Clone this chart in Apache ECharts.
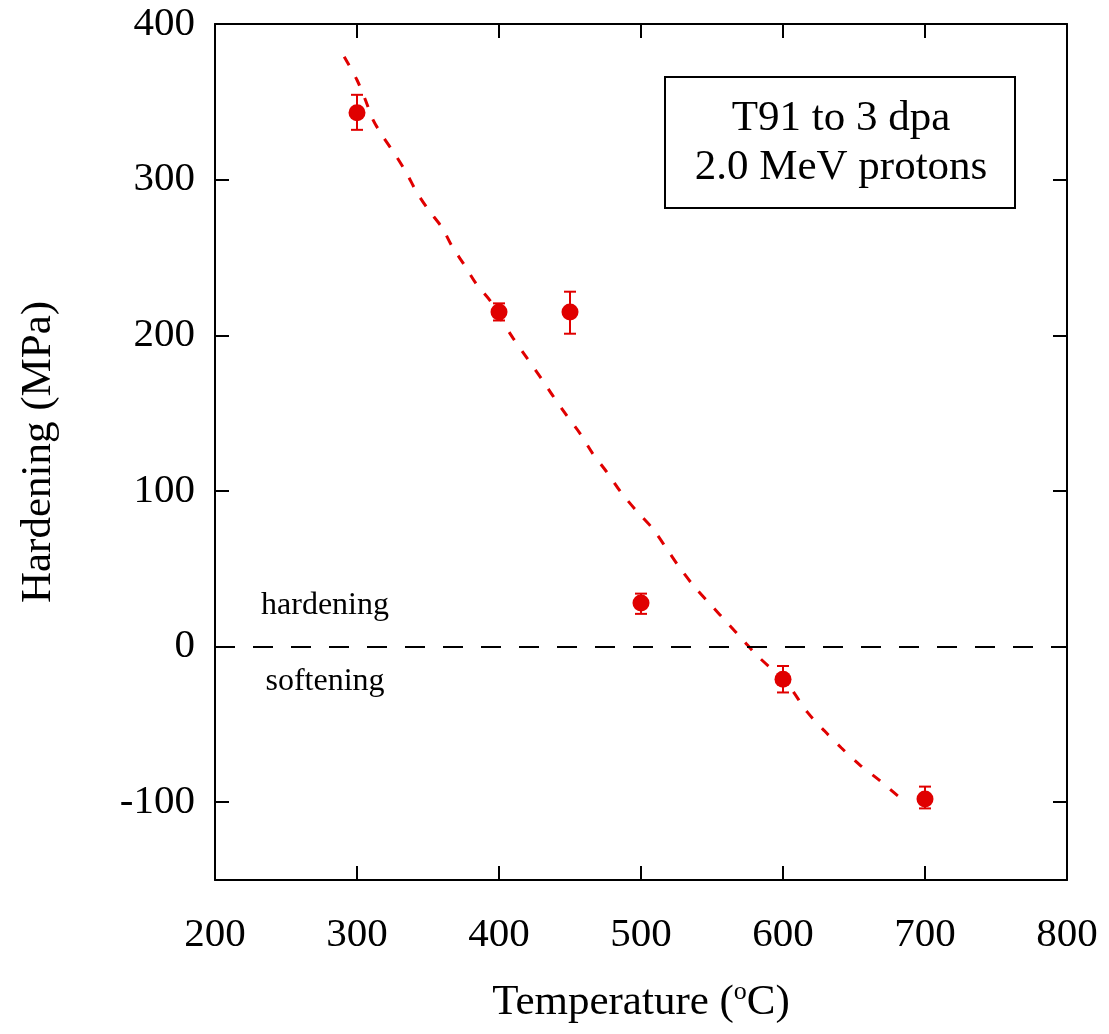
<!DOCTYPE html>
<html>
<head>
<meta charset="utf-8">
<script src="https://cdn.jsdelivr.net/npm/echarts@6/dist/echarts.min.js"></script>
<style>
html,body{margin:0;padding:0;background:#fff;}
#chart{width:1109px;height:1034px;}
</style>
</head>
<body>
<div id="chart"></div>
<script>
// Measured data (temperature in °C, hardening in MPa)
const temps = [300, 400, 450, 500, 600, 700];
const hardening = [343, 215, 215, 28, -21, -98];
const errLow = [332, 209.5, 201, 21, -29.5, -104];
const errHigh = [354.5, 220.5, 228, 34, -12.5, -90];

// Dashed trend curve
const fitT = [291, 300, 306, 311, 318, 327, 335, 342, 350, 360, 367, 375, 384, 394, 401, 410, 420, 430, 438, 448, 457, 466, 476, 486, 497, 508, 518, 527, 538, 550, 561, 572, 582, 603, 617, 629, 641, 654, 668, 681, 685];
const fitH = [379, 364, 351, 339, 328, 316, 304, 292, 281, 269, 257, 246, 233, 222, 211, 198, 185, 172, 161, 148, 137, 124, 112, 99, 87, 76, 63, 51, 38, 26, 15, 4, -6, -24, -42, -54, -65, -76, -86, -96, -98];

const yTicks = [-100, 0, 100, 200, 300, 400];
const xTicks = [200, 300, 400, 500, 600, 700, 800];

const boxLines = ['T91 to 3 dpa', '2.0 MeV protons'];
const regionLabels = ['hardening', 'softening'];

const RED = '#e00000';
const FONT = 'Liberation Serif';

const chart = echarts.init(document.getElementById('chart'), null, {renderer: 'canvas'});

const pts = temps.map((t, i) => [t, hardening[i]]);
const bars = temps.map((t, i) => [t, hardening[i], errLow[i], errHigh[i]]);
const fit = fitT.map((t, i) => [t, fitH[i]]);

function axisLine() {
  return {show: true, onZero: false, lineStyle: {color: '#000', width: 2}};
}

const option = {
  backgroundColor: '#fff',
  animation: false,
  grid: {left: 215, right: 42, top: 24, bottom: 154, containLabel: false},
  xAxis: [
    {
      type: 'value', min: 200, max: 800, position: 'bottom',
      axisLine: axisLine(), splitLine: {show: false},
      axisTick: {inside: true, length: 14, lineStyle: {color: '#000', width: 2}, customValues: xTicks},
      axisLabel: {fontFamily: FONT, fontSize: 41, color: '#000', margin: 35, customValues: xTicks},
      name: 'Temperature ({sup|o}C)',
      nameLocation: 'middle',
      nameGap: 99,
      nameTextStyle: {fontFamily: FONT, fontSize: 43, color: '#000',
        rich: {sup: {fontFamily: FONT, fontSize: 26, color: '#000', verticalAlign: 'top', padding: [0, 0, 22, 0]}}}
    },
    {
      type: 'value', min: 200, max: 800, position: 'top',
      axisLine: axisLine(), splitLine: {show: false},
      axisTick: {inside: true, length: 14, lineStyle: {color: '#000', width: 2}, customValues: xTicks},
      axisLabel: {show: false}
    }
  ],
  yAxis: [
    {
      type: 'value', min: -150, max: 400, position: 'left',
      axisLine: axisLine(), splitLine: {show: false},
      axisTick: {inside: true, length: 14, lineStyle: {color: '#000', width: 2}, customValues: yTicks},
      axisLabel: {fontFamily: FONT, fontSize: 41, color: '#000', margin: 20, customValues: yTicks},
      name: 'Hardening (MPa)',
      nameLocation: 'middle',
      nameGap: 155,
      nameRotate: 90,
      nameTextStyle: {fontFamily: FONT, fontSize: 43, color: '#000'}
    },
    {
      type: 'value', min: -150, max: 400, position: 'right',
      axisLine: axisLine(), splitLine: {show: false},
      axisTick: {inside: true, length: 14, lineStyle: {color: '#000', width: 2}, customValues: yTicks},
      axisLabel: {show: false}
    }
  ],
  series: [
    {
      type: 'custom',
      name: 'errors',
      xAxisIndex: 0, yAxisIndex: 0,
      data: bars,
      renderItem: function (params, api) {
        const x = api.value(0);
        const lo = api.coord([x, api.value(2)]);
        const hi = api.coord([x, api.value(3)]);
        const w = 6;
        const st = {stroke: RED, lineWidth: 2};
        return {
          type: 'group',
          children: [
            {type: 'line', shape: {x1: lo[0], y1: lo[1], x2: hi[0], y2: hi[1]}, style: st},
            {type: 'line', shape: {x1: lo[0] - w, y1: lo[1], x2: lo[0] + w, y2: lo[1]}, style: st},
            {type: 'line', shape: {x1: hi[0] - w, y1: hi[1], x2: hi[0] + w, y2: hi[1]}, style: st}
          ]
        };
      },
      z: 2
    },
    {
      type: 'scatter',
      name: 'data',
      data: pts,
      symbol: 'circle',
      symbolSize: 17,
      itemStyle: {color: RED, opacity: 1},
      z: 3,
      markLine: {
        silent: true,
        symbol: ['none', 'none'],
        label: {show: false},
        lineStyle: {color: '#000', width: 2, type: [20, 18], opacity: 1},
        data: [{yAxis: 0}]
      }
    },
    {
      type: 'line',
      name: 'fit',
      data: fit,
      showSymbol: false,
      symbol: 'none',
      smooth: 0.3,
      lineStyle: {color: RED, width: 3, type: [10, 13]},
      z: 4
    }
  ],
  graphic: [
    {type: 'rect', shape: {x: 665, y: 77, width: 350, height: 131},
      style: {fill: '#fff', stroke: '#000', lineWidth: 2}, z: 10},
    {type: 'text', x: 841, y: 119, z: 11,
      style: {text: boxLines[0], fontFamily: FONT, fontSize: 43, fill: '#000', align: 'center', verticalAlign: 'middle'}},
    {type: 'text', x: 841, y: 168, z: 11,
      style: {text: boxLines[1], fontFamily: FONT, fontSize: 43, fill: '#000', align: 'center', verticalAlign: 'middle'}},
    {type: 'text', x: 325, y: 606, z: 11,
      style: {text: regionLabels[0], fontFamily: FONT, fontSize: 32, fill: '#000', align: 'center', verticalAlign: 'middle'}},
    {type: 'text', x: 325, y: 682, z: 11,
      style: {text: regionLabels[1], fontFamily: FONT, fontSize: 32, fill: '#000', align: 'center', verticalAlign: 'middle'}}
  ]
};

chart.setOption(option);
</script>
</body>
</html>
